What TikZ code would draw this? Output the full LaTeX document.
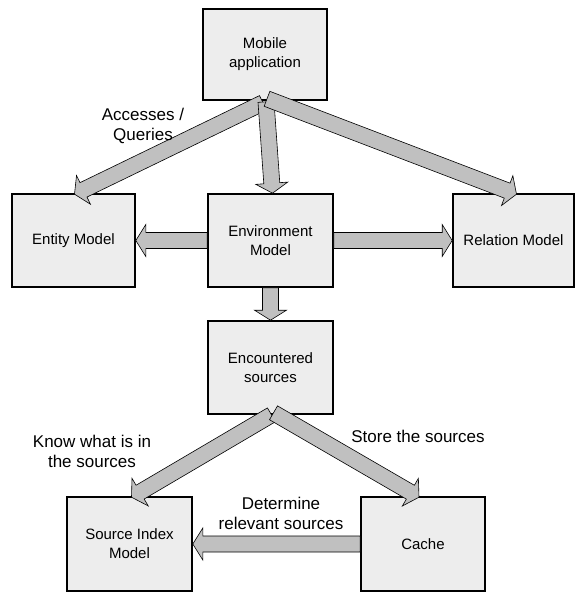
\documentclass[tikz,border=0pt]{standalone}
\usepackage{fontspec}
\setmainfont{Liberation Sans}
\usetikzlibrary{calc}

\definecolor{boxfill}{HTML}{EDEDED}
\definecolor{arrowfill}{HTML}{C0C0C0}

\tikzset{
  box/.style={draw=black, line width=1.6pt, fill=boxfill, align=center,
    inner sep=2pt, font={\fontsize{15}{19}\selectfont}},
  lbl/.style={align=center, font={\fontsize{17}{20}\selectfont}},
  fatarrow/.style={draw=black, line width=0.6pt, fill=arrowfill, line join=miter},
}

% Block arrow from #1 to #2: shaft half width 8, head half width 16, head length 10
\newcommand\fatarrow[2]{%
  \coordinate (fa-h) at ($(#2)!10pt!(#1)$);
  \draw[fatarrow]
    ($(#1)!8pt!90:(#2)$) -- ($(fa-h)!8pt!-90:(#1)$) -- ($(fa-h)!16pt!-90:(#1)$)
    -- (#2) -- ($(fa-h)!16pt!90:(#1)$) -- ($(fa-h)!8pt!90:(#1)$)
    -- ($(#1)!8pt!-90:(#2)$) -- cycle;}

\begin{document}
\begin{tikzpicture}[x=1pt, y=-1pt]
\useasboundingbox (0,0) rectangle (575,592);

% boxes
\node[box, minimum width=124pt, minimum height=91pt] (mob) at (265,54.5) {Mobile\\application};
\node[box, minimum width=123pt, minimum height=93pt] (ent) at (73.5,240.5) {Entity Model};
\node[box, minimum width=125pt, minimum height=93pt] (env) at (270.5,240.5) {Environment\\Model};
\node[box, minimum width=121pt, minimum height=93pt] (rel) at (513.5,240.5) {Relation Model};
\node[box, minimum width=125pt, minimum height=93pt] (enc) at (270.5,367.5) {Encountered\\sources};
\node[box, minimum width=125pt, minimum height=94pt] (src) at (129.5,544) {Source Index\\Model};
\node[box, minimum width=124pt, minimum height=94pt] (cache) at (423,544) {Cache};

% connector end points
\coordinate (mobA) at ($(mob.south)+(-2,2)$);
\coordinate (mobB) at ($(mob.south)+(1,1)$);
\coordinate (mobC) at ($(mob.south)+(2,-2)$);
\coordinate (entIn) at ($(ent.north)+(1,1)$);
\coordinate (envIn) at ($(env.north)+(2,0)$);
\coordinate (relIn) at ($(rel.north)+(3,1)$);
\coordinate (encOutA) at ($(enc.south)+(1,0)$);
\coordinate (encOutB) at ($(enc.south)+(3,-2)$);
\coordinate (srcIn) at ($(src.north)+(2,1)$);
\coordinate (cacheIn) at ($(cache.north)+(-4,1)$);

% arrows
\fatarrow{mobA}{entIn}
\fatarrow{mobB}{envIn}
\fatarrow{mobC}{relIn}
\fatarrow{env.west}{ent.east}
\fatarrow{env.east}{rel.west}
\fatarrow{env.south}{enc.north}
\fatarrow{encOutA}{srcIn}
\fatarrow{encOutB}{cacheIn}
\fatarrow{cache.west}{src.east}

% labels
\node[lbl] (l1) at (143,126) {Accesses /\\Queries};
\node[lbl] (l2) at (92,451) {Know what is in\\the sources};
\node[lbl] (l3) at (418,436) {Store the sources};
\node[lbl] (l4) at (281,513) {Determine\\relevant sources};
\end{tikzpicture}
\end{document}
